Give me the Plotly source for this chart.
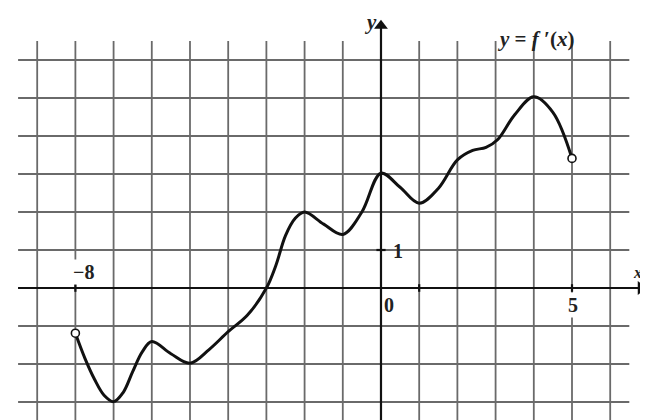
import plotly.graph_objects as go

# curve y = f'(x)
curve_x = [-8.0, -7.75, -7.5, -7.25, -7.0, -6.75, -6.5, -6.25, -6.0, -5.5, -5.0, -4.5, -4.0, -3.5, -3.0,
           -2.75, -2.5, -2.25, -2.0, -1.5, -1.0, -0.5, 0.0, 0.5, 1.0, 1.5, 2.0, 2.4, 2.75, 3.05, 3.5, 4.0,
           4.5, 5.0]
curve_y = [-1.19, -1.85, -2.4, -2.82, -2.99, -2.75, -2.2, -1.68, -1.41, -1.73, -1.98, -1.62, -1.15,
           -0.72, 0.0, 0.6, 1.38, 1.83, 2.0, 1.68, 1.41, 2.0, 3.02, 2.65, 2.23, 2.62, 3.37, 3.62,
           3.7, 3.9, 4.56, 5.03, 4.62, 3.41]
end_x = [-8.0, 5.0]
end_y = [-1.19, 3.41]

grid_x = list(range(-9, 7))
grid_y = list(range(-3, 7))
tick_x = [-8, 1, 5]
tick_y = [1]

# the page has an 8px body margin, so ranges are set to put the origin where the reference has it
X_RANGE = [-9.764, 7.199]
Y_RANGE = [-3.684, 7.368]

fig = go.Figure()

shapes = []
gc = "#6a6a6a"
for gx in grid_x:
    shapes.append(dict(type="line", xref="x", yref="y", x0=gx, x1=gx, y0=-3.8, y1=6.5,
                       line=dict(color=gc, width=1.8), layer="below"))
for gy in grid_y:
    shapes.append(dict(type="line", xref="x", yref="y", x0=-9.5, x1=6.5, y0=gy, y1=gy,
                       line=dict(color=gc, width=1.8), layer="below"))
# axes
shapes.append(dict(type="line", xref="x", yref="y", x0=-9.5, x1=6.75, y0=0, y1=0,
                   line=dict(color="#111", width=2.2)))
shapes.append(dict(type="line", xref="x", yref="y", x0=0, x1=0, y0=-3.8, y1=6.85,
                   line=dict(color="#111", width=2.2)))
for t in tick_x:
    shapes.append(dict(type="line", xref="x", yref="y", x0=t, x1=t, y0=-0.1, y1=0.1,
                       line=dict(color="#111", width=2.2)))
for t in tick_y:
    shapes.append(dict(type="line", xref="x", yref="y", x0=-0.12, x1=0.12, y0=t, y1=t,
                       line=dict(color="#111", width=2.2)))

fig.add_trace(go.Scatter(x=curve_x, y=curve_y, mode="lines",
                         line=dict(color="#111", width=3, shape="spline", smoothing=1.0),
                         hoverinfo="skip", showlegend=False))
fig.add_trace(go.Scatter(x=end_x, y=end_y, mode="markers",
                         marker=dict(symbol="circle", size=8, color="white",
                                     line=dict(color="#111", width=1.6)),
                         hoverinfo="skip", showlegend=False))
# arrow heads
fig.add_trace(go.Scatter(x=[6.8], y=[0], mode="markers",
                         marker=dict(symbol="triangle-right", size=12, color="#111"),
                         hoverinfo="skip", showlegend=False))
fig.add_trace(go.Scatter(x=[0], y=[6.9], mode="markers",
                         marker=dict(symbol="triangle-up", size=12, color="#111"),
                         hoverinfo="skip", showlegend=False))

serif = "Liberation Serif, DejaVu Serif, serif"
ann = [
    dict(x=-7.8, y=0.42, text="−8", font=dict(size=20, family=serif, color="#222", weight="bold"), bgcolor="white"),
    dict(x=0.45, y=0.97, text="1", font=dict(size=20, family=serif, color="#222", weight="bold")),
    dict(x=0.22, y=-0.45, text="0", font=dict(size=20, family=serif, color="#222", weight="bold")),
    dict(x=5.03, y=-0.45, text="5", font=dict(size=20, family=serif, color="#222", weight="bold"), bgcolor="white"),
    dict(x=-0.27, y=7.0, text="<i>y</i>", font=dict(size=21, family=serif, color="#222", weight="bold")),
    dict(x=6.72, y=0.4, text="<i>x</i>", font=dict(size=16, family=serif, color="#222", weight="bold")),
    dict(x=4.05, y=6.55, text="<i>y</i> = <i>f</i> ′(<i>x</i>)", font=dict(size=21, family=serif, color="#222", weight="bold")),
]
for a in ann:
    a.update(xref="x", yref="y", showarrow=False)

fig.update_layout(
    width=648, height=420,
    margin=dict(l=0, r=0, t=0, b=0),
    paper_bgcolor="white", plot_bgcolor="white",
    xaxis=dict(range=X_RANGE, visible=False, fixedrange=True),
    yaxis=dict(range=Y_RANGE, visible=False, fixedrange=True),
    shapes=shapes, annotations=ann, showlegend=False,
)

fig.write_html("out.html")
